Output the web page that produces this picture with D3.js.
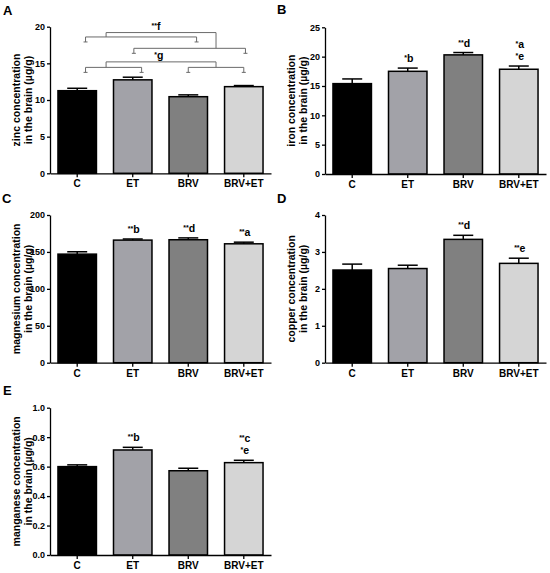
<!DOCTYPE html>
<html>
<head>
<meta charset="utf-8">
<script src="https://cdn.jsdelivr.net/npm/d3@7"></script>
<style>
  body { margin: 0; background: #fff; }
  text { font-family: Arial, "Liberation Sans", sans-serif; font-weight: bold; }
</style>
</head>
<body>
<div id="chart"></div>
<script>
/* DATA */
const groups = ["C", "ET", "BRV", "BRV+ET"];

const zincMean = [11.27, 12.75, 10.45, 11.82];
const zincSem = [0.33, 0.36, 0.25, 0.15];
const zincMarks = [[], [], [], []];

const ironMean = [15.4, 17.5, 20.3, 17.85];
const ironSem = [0.8, 0.55, 0.4, 0.55];
const ironMarks = [[], ["*b"], ["**d"], ["*a", "*e"]];

const magnesiumMean = [147, 166, 166.5, 161];
const magnesiumSem = [3.2, 1.5, 2.5, 2.2];
const magnesiumMarks = [[], ["**b"], ["**d"], ["**a"]];

const copperMean = [2.51, 2.55, 3.34, 2.69];
const copperSem = [0.16, 0.09, 0.11, 0.14];
const copperMarks = [[], [], ["**d"], ["**e"]];

const manganeseMean = [0.600, 0.713, 0.572, 0.627];
const manganeseSem = [0.012, 0.018, 0.017, 0.016];
const manganeseMarks = [[], ["**b"], [], ["**c", "*e"]];

// zinc comparison brackets (x in group index units, y in µg/g)
const zincBrackets = [
    {left: [0.15, 2.15], leftY: 18.6, right: [1.02, 3.03], rightY: 17.05,
     join: [0.52, 2.5], joinY: 19.2, label: "**f", labelX: 1.42},
    {left: [0.15, 1.16], leftY: 14.45, right: [2.0, 3.0], rightY: 14.45,
     join: [0.52, 2.5], joinY: 15.2, label: "*g", labelX: 1.47}
];

const barColors = ["#000000", "#a2a2a8", "#808080", "#d5d5d5"];

/* PANELS */
const panels = [
    {letter: "A", mean: zincMean, sem: zincSem, marks: zincMarks, max: 20, ticks: [0, 5, 10, 15, 20],
     fmt: d3.format("d"), title: ["zinc concentration", "in the brain (µg/g)"],
     x0: 50, x1: 271, top: 26.7, bottom: 173.3, lx: 3, ly: 15, brackets: zincBrackets},
    {letter: "B", mean: ironMean, sem: ironSem, marks: ironMarks, max: 25, ticks: [0, 5, 10, 15, 20, 25],
     fmt: d3.format("d"), title: ["iron concentration", "in the brain (µg/g)"],
     x0: 325, x1: 546, top: 27.3, bottom: 174, lx: 277, ly: 14},
    {letter: "C", mean: magnesiumMean, sem: magnesiumSem, marks: magnesiumMarks, max: 200, ticks: [0, 50, 100, 150, 200],
     fmt: d3.format("d"), title: ["magnesium concentration", "in the brain (µg/g)"],
     x0: 50, x1: 271, top: 215, bottom: 362.7, lx: 2, ly: 203},
    {letter: "D", mean: copperMean, sem: copperSem, marks: copperMarks, max: 4, ticks: [0, 1, 2, 3, 4],
     fmt: d3.format("d"), title: ["copper concentration", "in the brain (µg/g)"],
     x0: 325, x1: 546, top: 215, bottom: 362.7, lx: 277, ly: 203},
    {letter: "E", mean: manganeseMean, sem: manganeseSem, marks: manganeseMarks, max: 1.0, ticks: [0, 0.2, 0.4, 0.6, 0.8, 1.0],
     fmt: d3.format(".1f"), title: ["manganese concentration", "in the brain (µg/g)"],
     x0: 50, x1: 271, top: 407.7, bottom: 555, lx: 3, ly: 395}
];

const width = 550;
const height = 573;

const svg = d3.select("#chart")
    .append("svg")
    .attr("width", width)
    .attr("height", height);

panels.forEach(function(p) {

    const g = svg.append("g");

    const xScale = d3.scaleBand()
        .domain(groups)
        .range([p.x0, p.x1])
        .paddingInner(0.28)
        .paddingOuter(0.13);

    const yScale = d3.scaleLinear()
        .domain([0, p.max])
        .range([p.bottom, p.top]);

    const bw = xScale.bandwidth();
    const rows = groups.map(function(d, i) {
        return {group: d, mean: p.mean[i], sem: p.sem[i], marks: p.marks[i], color: barColors[i]};
    });

    /* BARS */
    g.selectAll("rect")
        .data(rows)
        .enter()
        .append("rect")
            .attr("x", function(d) { return xScale(d.group) + 0.75; })
            .attr("y", function(d) { return yScale(d.mean); })
            .attr("width", bw - 1.5)
            .attr("height", function(d) { return yScale(0) - yScale(d.mean); })
            .attr("fill", function(d) { return d.color; })
            .attr("stroke", "black")
            .attr("stroke-width", 1.5);

    /* ERROR BARS */
    const cx = function(d) { return xScale(d.group) + bw / 2; };

    g.selectAll(".err")
        .data(rows)
        .enter()
        .append("line")
            .attr("class", "err")
            .attr("x1", cx).attr("x2", cx)
            .attr("y1", function(d) { return yScale(d.mean); })
            .attr("y2", function(d) { return yScale(d.mean + d.sem); })
            .attr("stroke", "black")
            .attr("stroke-width", 1.5);

    g.selectAll(".cap")
        .data(rows)
        .enter()
        .append("line")
            .attr("class", "cap")
            .attr("x1", function(d) { return cx(d) - bw / 4; })
            .attr("x2", function(d) { return cx(d) + bw / 4; })
            .attr("y1", function(d) { return yScale(d.mean + d.sem); })
            .attr("y2", function(d) { return yScale(d.mean + d.sem); })
            .attr("stroke", "black")
            .attr("stroke-width", 1.5);

    /* SIGNIFICANCE MARKS */
    rows.forEach(function(d) {
        const n = d.marks.length;
        d.marks.forEach(function(m, k) {
            const stars = m.replace(/[^*]/g, "");
            const letter = m.replace(/\*/g, "");
            const t = g.append("text")
                .attr("x", cx(d) + 1)
                .attr("y", yScale(d.mean + d.sem) - 6 - (n - 1 - k) * 12)
                .attr("text-anchor", "middle")
                .attr("font-size", 10.5);
            t.append("tspan").attr("font-size", 7).attr("dy", -2).text(stars);
            t.append("tspan").attr("dy", 2).text(letter);
        });
    });

    /* COMPARISON BRACKETS */
    if (p.brackets) {
        const step = xScale.step();
        const ix = function(i) { return xScale(groups[0]) + bw / 2 + i * step; };
        const tick = 5;
        const bc = "#6a6a6a";

        p.brackets.forEach(function(b) {
            [[b.left, b.leftY], [b.right, b.rightY]].forEach(function(s) {
                const yy = yScale(s[1]);
                const path = d3.path();
                path.moveTo(ix(s[0][0]), yy + tick);
                path.lineTo(ix(s[0][0]), yy);
                path.lineTo(ix(s[0][1]), yy);
                path.lineTo(ix(s[0][1]), yy + tick);
                g.append("path").attr("d", path.toString())
                    .attr("fill", "none").attr("stroke", bc).attr("stroke-width", 1);
                s[0].forEach(function(e) {
                    g.append("line")
                        .attr("x1", ix(e) - 2).attr("x2", ix(e) + 2)
                        .attr("y1", yy + tick).attr("y2", yy + tick)
                        .attr("stroke", bc).attr("stroke-width", 1);
                });
            });
            const jp = d3.path();
            jp.moveTo(ix(b.join[0]), yScale(b.leftY));
            jp.lineTo(ix(b.join[0]), yScale(b.joinY));
            jp.lineTo(ix(b.join[1]), yScale(b.joinY));
            jp.lineTo(ix(b.join[1]), yScale(b.rightY));
            g.append("path").attr("d", jp.toString())
                .attr("fill", "none").attr("stroke", bc).attr("stroke-width", 1);

            const stars = b.label.replace(/[^*]/g, "");
            const letter = b.label.replace(/\*/g, "");
            const t = g.append("text")
                .attr("x", ix(b.labelX))
                .attr("y", yScale(b.joinY) - 2.5)
                .attr("text-anchor", "middle")
                .attr("font-size", 10.5);
            t.append("tspan").attr("font-size", 7).attr("dy", -2).text(stars);
            t.append("tspan").attr("dy", 2).text(letter);
        });
    }

    /* AXES */
    const yAxis = g.append("g")
        .attr("transform", `translate(${p.x0},0)`)
        .call(d3.axisLeft(yScale).tickValues(p.ticks).tickFormat(p.fmt).tickSize(3).tickSizeOuter(0).tickPadding(2));

    const xAxis = g.append("g")
        .attr("transform", `translate(0,${p.bottom})`)
        .call(d3.axisBottom(xScale).tickSize(4).tickSizeOuter(0).tickPadding(3));

    [yAxis, xAxis].forEach(function(a) {
        a.selectAll("path, line").attr("stroke", "black").attr("stroke-width", 1.3);
        a.selectAll("text")
            .attr("fill", "black")
            .attr("font-family", "Arial, 'Liberation Sans', sans-serif")
            .attr("font-weight", "bold");
    });
    yAxis.selectAll("text").attr("font-size", 9);
    xAxis.selectAll("text").attr("font-size", 10);

    /* AXIS TITLE */
    const midY = (p.top + p.bottom) / 2;
    p.title.forEach(function(line, k) {
        g.append("text")
            .attr("transform", `translate(${p.x0 - 30 + k * 11.5},${midY}) rotate(-90)`)
            .attr("text-anchor", "middle")
            .attr("font-size", 10.5)
            .text(line);
    });

    /* PANEL LETTER */
    g.append("text")
        .attr("x", p.lx)
        .attr("y", p.ly)
        .attr("font-size", 13)
        .text(p.letter);
});
</script>
</body>
</html>
